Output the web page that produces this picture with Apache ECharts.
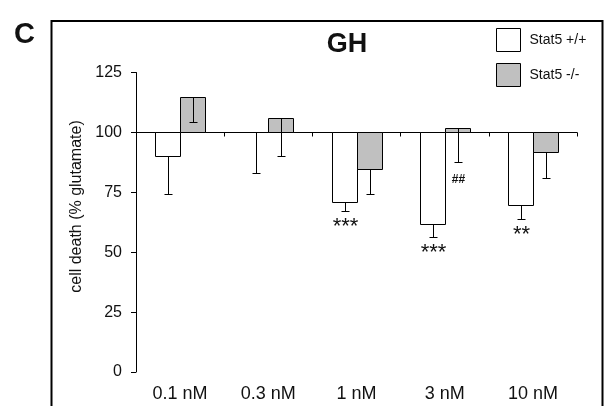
<!DOCTYPE html>
<html>
<head>
<meta charset="utf-8">
<script src="https://cdn.jsdelivr.net/npm/echarts@6/dist/echarts.min.js"></script>
<style>
html,body{margin:0;padding:0;background:#fff;}
#chart{width:605px;height:406px;}
</style>
</head>
<body>
<div id="chart"></div>
<script>
// ---- data ----
const categories = ['0.1 nM', '0.3 nM', '1 nM', '3 nM', '10 nM'];
const wtValues = [90.3, 100, 70.8, 61.6, 69.9];      // Stat5 +/+
const wtErrors = [16.0, 17.1, 3.5, 5.2, 6.1];
const koValues = [114.7, 106.2, 84.7, 101.8, 91.7];  // Stat5 -/-
const koErrors = [10.4, 16.2, 10.4, 14.3, 10.8];
const wtMarks = ['', '', '***', '***', '**'];
const koMarks = ['', '', '', '##', ''];
const yMin = 0, yMax = 125, yStep = 25;
const baseValue = 100;
const seriesNames = ['Stat5 +/+', 'Stat5 -/-'];

const FONT = "'Liberation Sans', Arial, Helvetica, sans-serif";
const chart = echarts.init(document.getElementById('chart'), null, {renderer: 'canvas'});

function makeRender(side, fill, marks, markFont, markGap) {
  return function (params, api) {
    const i = api.value(0), v = api.value(1), e = api.value(2);
    const band = api.size([1, 0])[0];
    const bw = Math.round(band * 0.289);
    const c = api.coord([i, baseValue]);
    const t = api.coord([i, v]);
    const lo = api.coord([i, v - e]);
    const x0 = Math.round(side < 0 ? c[0] - bw : c[0]) + 0.5;
    const yA = Math.round(Math.min(c[1], t[1])) + 0.5;
    const yB = Math.round(Math.max(c[1], t[1])) + 0.5;
    const cx = Math.round(x0 + bw / 2) + 0.5;
    const yT = Math.round(t[1]) + 0.5;
    const yL = Math.round(lo[1]) + 0.5;
    const children = [
      {type: 'rect', shape: {x: x0, y: yA, width: bw, height: yB - yA},
       style: {fill: fill, stroke: '#000', lineWidth: 1}},
      {type: 'line', shape: {x1: cx, y1: yT, x2: cx, y2: yL},
       style: {stroke: '#000', lineWidth: 1}},
      {type: 'line', shape: {x1: cx - 4, y1: yL, x2: cx + 4, y2: yL},
       style: {stroke: '#000', lineWidth: 1}}
    ];
    if (marks[i]) {
      children.push({type: 'text', x: cx, y: lo[1] + markGap,
        style: {text: marks[i], font: markFont, fill: '#111',
                textAlign: 'center', textVerticalAlign: 'middle'}});
    }
    return {type: 'group', children: children};
  };
}

const option = {
  animation: false,
  backgroundColor: '#fff',
  textStyle: {fontFamily: FONT},
  grid: {left: 136, right: 28, top: 72.5, bottom: 34, containLabel: false},
  legend: {
    orient: 'vertical', left: 496, top: 28, padding: 0,
    itemWidth: 24, itemHeight: 23, itemGap: 11,
    selectedMode: false, icon: 'rect',
    textStyle: {fontFamily: FONT, fontSize: 14, color: '#111', padding: [0, 0, 0, 4]},
    data: [
      {name: seriesNames[0], itemStyle: {color: '#fff', borderColor: '#000', borderWidth: 1}},
      {name: seriesNames[1], itemStyle: {color: '#c0c0c0', borderColor: '#000', borderWidth: 1}}
    ]
  },
  xAxis: [
    {type: 'category', data: categories, position: 'bottom',
     axisLine: {show: false}, axisTick: {show: false},
     axisLabel: {fontSize: 18, color: '#111', margin: 13, fontFamily: FONT}},
    {type: 'category', data: categories, position: 'bottom', offset: -239.5,
     axisLine: {show: true, lineStyle: {color: '#000', width: 1}},
     axisTick: {show: true, length: 4, lineStyle: {color: '#000'}},
     axisLabel: {show: false}}
  ],
  yAxis: {
    type: 'value', min: yMin, max: yMax, interval: yStep,
    axisLine: {show: true, lineStyle: {color: '#000', width: 1}},
    axisTick: {show: true, length: 5, lineStyle: {color: '#000'}},
    axisLabel: {fontSize: 16, color: '#111', margin: 14, fontFamily: FONT},
    splitLine: {show: false}
  },
  series: [
    {name: seriesNames[0], type: 'custom', xAxisIndex: 0, clip: false,
     itemStyle: {color: '#fff', borderColor: '#000', borderWidth: 1},
     renderItem: makeRender(-1, '#fff', wtMarks, '22px ' + FONT, 16),
     data: wtValues.map((v, i) => [i, v, wtErrors[i]]), z: 5},
    {name: seriesNames[1], type: 'custom', xAxisIndex: 0, clip: false,
     itemStyle: {color: '#c0c0c0', borderColor: '#000', borderWidth: 1},
     renderItem: makeRender(1, '#c0c0c0', koMarks, 'bold 12px ' + FONT, 17),
     data: koValues.map((v, i) => [i, v, koErrors[i]]), z: 5}
  ],
  graphic: [
    {type: 'rect', shape: {x: 51.5, y: 21, width: 551, height: 420},
     style: {fill: null, stroke: '#000', lineWidth: 2}, z: 0, silent: true},
    {type: 'text', x: 24.5, y: 34.5,
     style: {text: 'C', font: 'bold 29px ' + FONT, fill: '#111', textAlign: 'center', textVerticalAlign: 'middle'}},
    {type: 'text', x: 347, y: 44.5,
     style: {text: 'GH', font: 'bold 27px ' + FONT, fill: '#111', textAlign: 'center', textVerticalAlign: 'middle'}},
    {type: 'text', x: 76.5, y: 206.5, rotation: Math.PI / 2,
     style: {text: 'cell death (% glutamate)', font: '16px ' + FONT, fill: '#111', textAlign: 'center', textVerticalAlign: 'middle'}}
  ]
};
chart.setOption(option);
</script>
</body>
</html>
